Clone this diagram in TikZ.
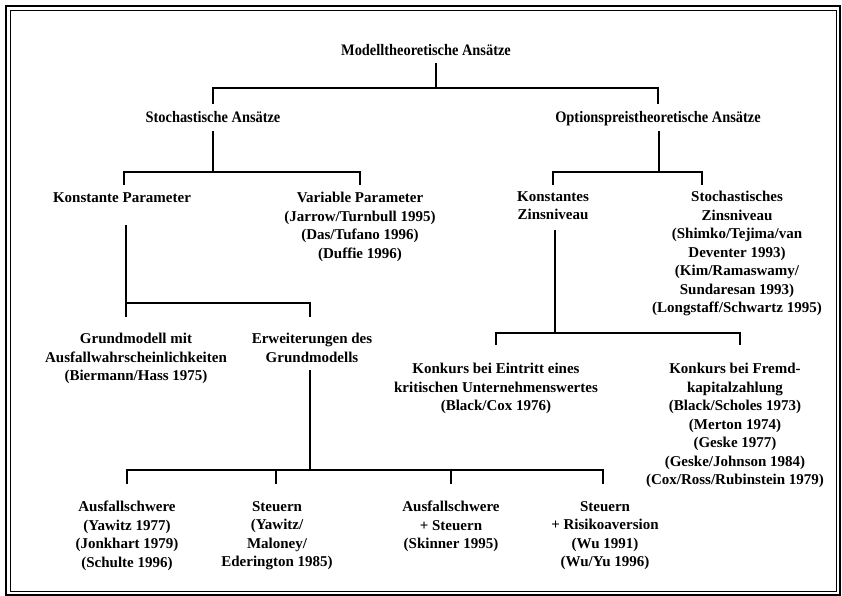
\documentclass[tikz,border=0pt]{standalone}
\usepackage{fontspec}
\setmainfont{Liberation Serif}
\newfontfamily\hdrfont[FakeStretch=0.9]{Liberation Serif}
\begin{document}
\begin{tikzpicture}[x=1pt,y=-1pt,
  conn/.style={line width=1.4pt},
  lbl/.style={font=\bfseries\fontsize{15}{18.5}\selectfont, align=center, inner sep=0pt, anchor=north},
  hdr/.style={font=\hdrfont\bfseries\fontsize{16}{19}\selectfont, align=center, inner sep=0pt, anchor=north},
  outerframe/.style={line width=2pt},
  innerframe/.style={line width=0.8pt}]
\useasboundingbox (0,0) rectangle (842,596);
\draw[outerframe] (6,6) rectangle (840,595);
\draw[innerframe] (10.5,10.5) rectangle (836.5,591.5);

% nodes
\node[hdr] (root) at (426,44.5) {Modelltheoretische Ansätze};
\node[hdr] (sto) at (213,111.5) {Stochastische Ansätze};
\node[hdr] (opt) at (658,111.5) {Optionspreistheoretische Ansätze};
\node[lbl] (kp) at (122,192) {Konstante Parameter};
\node[lbl] (vp) at (360,192) {Variable Parameter\\(Jarrow/Turnbull 1995)\\(Das/Tufano 1996)\\(Duffie 1996)};
\node[lbl] (kz) at (553,191) {Konstantes\\Zinsniveau};
\node[lbl] (sz) at (737,191) {Stochastisches\\Zinsniveau\\(Shimko/Tejima/van\\Deventer 1993)\\(Kim/Ramaswamy/\\Sundaresan 1993)\\(Longstaff/Schwartz 1995)};
\node[lbl] (gm) at (136,333) {Grundmodell mit\\Ausfallwahrscheinlichkeiten\\(Biermann/Hass 1975)};
\node[lbl] (eg) at (312,333) {Erweiterungen des\\Grundmodells};
\node[lbl] (ke) at (496,363) {Konkurs bei Eintritt eines\\kritischen Unternehmenswertes\\(Black/Cox 1976)};
\node[lbl] (kf) at (735,363) {Konkurs bei Fremd-\\kapitalzahlung\\(Black/Scholes 1973)\\(Merton 1974)\\(Geske 1977)\\(Geske/Johnson 1984)\\(Cox/Ross/Rubinstein 1979)};
\node[lbl] (b1) at (127,501) {Ausfallschwere\\(Yawitz 1977)\\(Jonkhart 1979)\\(Schulte 1996)};
\node[lbl] (b2) at (277,501) {Steuern\\(Yawitz/\\Maloney/\\Ederington 1985)};
\node[lbl] (b3) at (451,501) {Ausfallschwere\\+ Steuern\\(Skinner 1995)};
\node[lbl] (b4) at (605,501) {Steuern\\+ Risikoaversion\\(Wu 1991)\\(Wu/Yu 1996)};

% connector points
\coordinate (rootout) at (436,63);
\coordinate (rootbus) at (436,88);
\coordinate (stoin) at (213,104);
\coordinate (optin) at (658,104);
\coordinate (stoout) at (213,131);
\coordinate (stobus) at (213,172);
\coordinate (kpin) at (124,185);
\coordinate (vpin) at (360,185);
\coordinate (optout) at (659,131);
\coordinate (optbus) at (659,172);
\coordinate (kzin) at (553,185);
\coordinate (szin) at (702,185);
\coordinate (kpout) at (126,225);
\coordinate (kpbus) at (126,303);
\coordinate (gmin) at (126,317);
\coordinate (egin) at (310,317);
\coordinate (kzout) at (555,230);
\coordinate (kzbus) at (555,333);
\coordinate (kein) at (496,345);
\coordinate (kfin) at (740,345);
\coordinate (egout) at (310,370);
\coordinate (egbus) at (310,470);
\coordinate (b1in) at (127,484);
\coordinate (b2in) at (276,484);
\coordinate (b3in) at (451,484);
\coordinate (b4in) at (603,484);

% connectors
\draw[conn] (rootout) -- (rootbus);
\draw[conn] (stoin) |- (rootbus) -| (optin);
\draw[conn] (stoout) -- (stobus);
\draw[conn] (kpin) |- (stobus) -| (vpin);
\draw[conn] (optout) -- (optbus);
\draw[conn] (kzin) |- (optbus) -| (szin);
\draw[conn] (kpout) -- (gmin);
\draw[conn] (kpbus) -| (egin);
\draw[conn] (kzout) -- (kzbus);
\draw[conn] (kein) |- (kzbus) -| (kfin);
\draw[conn] (egout) -- (egbus);
\draw[conn] (b1in) |- (egbus) -| (b4in);
\draw[conn] (b2in) -- (b2in |- egbus);
\draw[conn] (b3in) -- (b3in |- egbus);
\end{tikzpicture}
\end{document}
